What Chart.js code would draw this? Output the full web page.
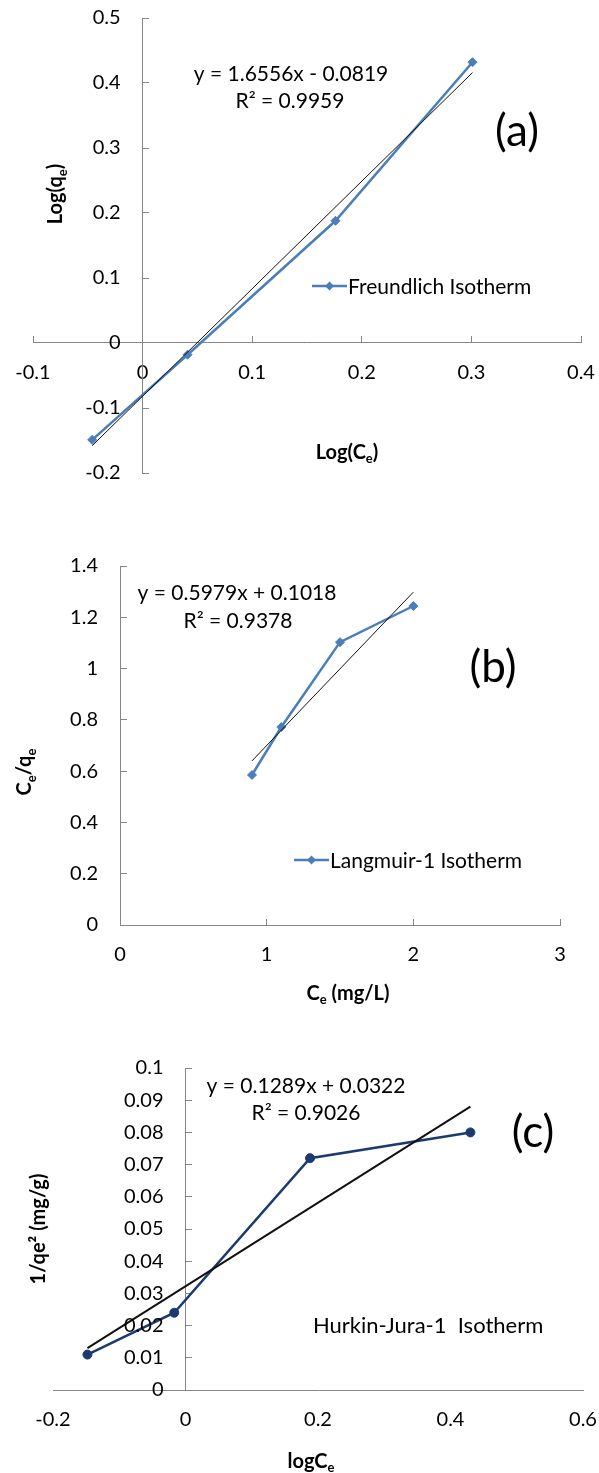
<!DOCTYPE html>
<html>
<head>
<meta charset="utf-8">
<script src="https://cdn.jsdelivr.net/npm/chart.js@4.4.0/dist/chart.umd.min.js"></script>
<style>
  html, body { margin: 0; padding: 0; background: #fff; overflow: hidden; }
  #page { position: relative; width: 599px; height: 1473px; }
  canvas { position: absolute; left: 0; }
</style>
</head>
<body>
<div id="page">
  <canvas id="chartA" width="599" height="490" style="top:0"></canvas>
  <canvas id="chartB" width="599" height="520" style="top:490px"></canvas>
  <canvas id="chartC" width="599" height="463" style="top:1010px"></canvas>
</div>
<script>
// (a) Freundlich
const freundlichX = [-0.046, 0.041, 0.176, 0.301]
const freundlichY = [-0.149, -0.018, 0.188, 0.432]
const freundlichFitX = [-0.046, 0.301]
const freundlichFitY = [-0.158, 0.416]
const freundlichXTicks = [-0.1, 0, 0.1, 0.2, 0.3, 0.4]
const freundlichYTicks = [-0.2, -0.1, 0, 0.1, 0.2, 0.3, 0.4, 0.5]

// (b) Langmuir-1
const langmuirX = [0.9, 1.1, 1.5, 2.0]
const langmuirY = [0.585, 0.772, 1.103, 1.244]
const langmuirFitX = [0.9, 2.0]
const langmuirFitY = [0.640, 1.298]
const langmuirXTicks = [0, 1, 2, 3]
const langmuirYTicks = [0, 0.2, 0.4, 0.6, 0.8, 1, 1.2, 1.4]

// (c) Hurkin-Jura-1
const hurkinX = [-0.148, -0.017, 0.188, 0.430]
const hurkinY = [0.011, 0.024, 0.072, 0.080]
const hurkinFitX = [-0.148, 0.430]
const hurkinFitY = [0.013, 0.088]
const hurkinXTicks = [-0.2, 0, 0.2, 0.4, 0.6]
const hurkinYTicks = [0, 0.01, 0.02, 0.03, 0.04, 0.05, 0.06, 0.07, 0.08, 0.09, 0.1]

const FONT = 'Lato'
const AXIS_GREY = '#868686'

const zip = (xs, ys) => xs.map((x, i) => ({x: x, y: ys[i]}))

// draws text made of normal / subscript parts
function drawRich(ctx, item) {
  const size = item.size
  const weight = item.bold ? 'bold ' : ''
  const fontFor = (mode) => weight + (mode === 'sub' ? Math.round(size * 0.65) : size) + 'px ' + FONT
  let w = 0
  item.parts.forEach(([t, m]) => { ctx.font = fontFor(m); w += ctx.measureText(t).width })
  ctx.save()
  ctx.translate(item.x, item.y)
  if (item.rotate) ctx.rotate(-Math.PI / 2)
  ctx.textAlign = 'left'
  ctx.textBaseline = 'alphabetic'
  let cx = item.align === 'left' ? 0 : -w / 2
  const by = item.rotate ? size * 0.26 : 0
  item.parts.forEach(([t, m]) => {
    ctx.font = fontFor(m)
    ctx.fillText(t, cx, m === 'sub' ? by + size * 0.22 : by)
    cx += ctx.measureText(t).width
  })
  ctx.restore()
}

const decor = {
  id: 'decor',
  afterDraw(chart, args, opts) {
    const ctx = chart.ctx
    const xs = chart.scales.x
    const ys = chart.scales.y
    const axisX = xs.getPixelForValue(0)
    ctx.save()
    ctx.fillStyle = '#000'
    // y tick labels, next to the crossing axis
    ctx.font = '20px ' + FONT
    ctx.textAlign = 'right'
    ctx.textBaseline = 'middle'
    ys.ticks.forEach(t => ctx.fillText(String(t.value), axisX - 22, ys.getPixelForValue(t.value)))

    if (opts.legend) {
      const ds = chart.data.datasets[1]
      const L = opts.legend
      ctx.strokeStyle = ds.borderColor
      ctx.lineWidth = ds.borderWidth
      ctx.beginPath()
      ctx.moveTo(L.x, L.y)
      ctx.lineTo(L.x + 35, L.y)
      ctx.stroke()
      const mx = L.x + 17.5, r = 4.5
      ctx.fillStyle = ds.borderColor
      ctx.beginPath()
      ctx.moveTo(mx, L.y - r); ctx.lineTo(mx + r, L.y); ctx.lineTo(mx, L.y + r); ctx.lineTo(mx - r, L.y)
      ctx.closePath()
      ctx.fill()
      ctx.fillStyle = '#000'
      drawRich(ctx, {parts: [[L.text, '']], x: L.x + 36, y: L.y + 7.5, size: 21, align: 'left'})
    }
    ctx.fillStyle = '#000'
    opts.texts.forEach(item => drawRich(ctx, item))
    ctx.restore()
  }
}

function makeChart(id, cfg) {
  const zeroPad = (s) => { s.paddingLeft = 0; s.paddingRight = 0; s.paddingTop = 0; s.paddingBottom = 0 }
  return new Chart(document.getElementById(id), {
    type: 'scatter',
    data: {
      datasets: [
        {
          label: 'fit',
          data: zip(cfg.fitX, cfg.fitY),
          showLine: true,
          borderColor: '#111',
          borderWidth: cfg.fitWidth,
          pointRadius: 0
        },
        {
          label: cfg.name,
          data: zip(cfg.xData, cfg.yData),
          showLine: true,
          borderColor: cfg.color,
          borderWidth: 2.5,
          pointStyle: cfg.marker,
          pointRadius: 4.5,
          pointBackgroundColor: cfg.color,
          pointBorderColor: cfg.color,
          pointBorderWidth: 1
        }
      ]
    },
    options: {
      responsive: false,
      animation: false,
      events: [],
      layout: {padding: cfg.padding},
      plugins: {
        legend: {display: false},
        tooltip: {enabled: false},
        decor: {legend: cfg.legend, texts: cfg.texts}
      },
      scales: {
        x: {
          type: 'linear',
          position: {y: 0},
          min: cfg.xTicks[0],
          max: cfg.xTicks[cfg.xTicks.length - 1],
          afterBuildTicks: s => { s.ticks = cfg.xTicks.map(v => ({value: v})) },
          afterFit: zeroPad,
          border: {color: AXIS_GREY, width: 1},
          grid: {drawOnChartArea: false, tickLength: -7, tickColor: cfg.xTickMarks ? AXIS_GREY : 'rgba(0,0,0,0)'},
          ticks: {
            padding: 25,
            color: '#000',
            font: {family: FONT, size: 20},
            maxRotation: 0,
            autoSkip: false,
            callback: v => String(v)
          }
        },
        y: {
          type: 'linear',
          position: {x: 0},
          min: cfg.yTicks[0],
          max: cfg.yTicks[cfg.yTicks.length - 1],
          afterBuildTicks: s => { s.ticks = cfg.yTicks.map(v => ({value: v})) },
          afterFit: zeroPad,
          border: {color: AXIS_GREY, width: 1},
          grid: {drawOnChartArea: false, tickLength: -7, tickColor: AXIS_GREY},
          ticks: {display: false}
        }
      }
    },
    plugins: [decor]
  })
}

makeChart('chartA', {
  name: 'Freundlich Isotherm',
  xData: freundlichX, yData: freundlichY,
  fitX: freundlichFitX, fitY: freundlichFitY, fitWidth: 1,
  xTicks: freundlichXTicks, yTicks: freundlichYTicks,
  color: '#4A7EBB', marker: 'rectRot', xTickMarks: true,
  padding: {left: 33, right: 18, top: 18, bottom: 17},
  legend: {x: 312, y: 286, text: 'Freundlich Isotherm'},
  texts: [
    {parts: [['y = 1.6556x - 0.0819', '']], x: 291, y: 81, size: 21},
    {parts: [['R² = 0.9959', '']], x: 290, y: 108, size: 21},
    {parts: [['(a)', '']], x: 517, y: 146, size: 44},
    {parts: [['Log(q', ''], ['e', 'sub'], [')', '']], x: 57, y: 194, size: 20, bold: true, rotate: true},
    {parts: [['Log(C', ''], ['e', 'sub'], [')', '']], x: 347, y: 459, size: 20, bold: true}
  ]
})

makeChart('chartB', {
  name: 'Langmuir-1 Isotherm',
  xData: langmuirX, yData: langmuirY,
  fitX: langmuirFitX, fitY: langmuirFitY, fitWidth: 1,
  xTicks: langmuirXTicks, yTicks: langmuirYTicks,
  color: '#4A7EBB', marker: 'rectRot', xTickMarks: true,
  padding: {left: 120, right: 39, top: 76, bottom: 85},
  legend: {x: 294, y: 370, text: 'Langmuir-1 Isotherm'},
  texts: [
    {parts: [['y = 0.5979x + 0.1018', '']], x: 237, y: 110, size: 21},
    {parts: [['R² = 0.9378', '']], x: 238, y: 138, size: 21},
    {parts: [['(b)', '']], x: 493, y: 192, size: 44},
    {parts: [['C', ''], ['e', 'sub'], ['/q', ''], ['e', 'sub']], x: 26, y: 282, size: 20, bold: true, rotate: true},
    {parts: [['C', ''], ['e', 'sub'], [' (mg/L)', '']], x: 348, y: 510, size: 20, bold: true}
  ]
})

makeChart('chartC', {
  name: 'Hurkin-Jura-1 Isotherm',
  xData: hurkinX, yData: hurkinY,
  fitX: hurkinFitX, fitY: hurkinFitY, fitWidth: 2,
  xTicks: hurkinXTicks, yTicks: hurkinYTicks,
  color: '#1B3A70', marker: 'circle', xTickMarks: false,
  padding: {left: 53, right: 16, top: 58, bottom: 83},
  legend: null,
  texts: [
    {parts: [['y = 0.1289x + 0.0322', '']], x: 306, y: 83, size: 21},
    {parts: [['R² = 0.9026', '']], x: 306, y: 110, size: 21},
    {parts: [['(c)', '']], x: 533, y: 137, size: 44},
    {parts: [['Hurkin-Jura-1  Isotherm', '']], x: 313, y: 323, size: 22, align: 'left'},
    {parts: [['1/qe² (mg/g)', '']], x: 40, y: 219, size: 20, bold: true, rotate: true},
    {parts: [['logC', ''], ['e', 'sub']], x: 311, y: 458, size: 20, bold: true}
  ]
})
</script>
</body>
</html>
